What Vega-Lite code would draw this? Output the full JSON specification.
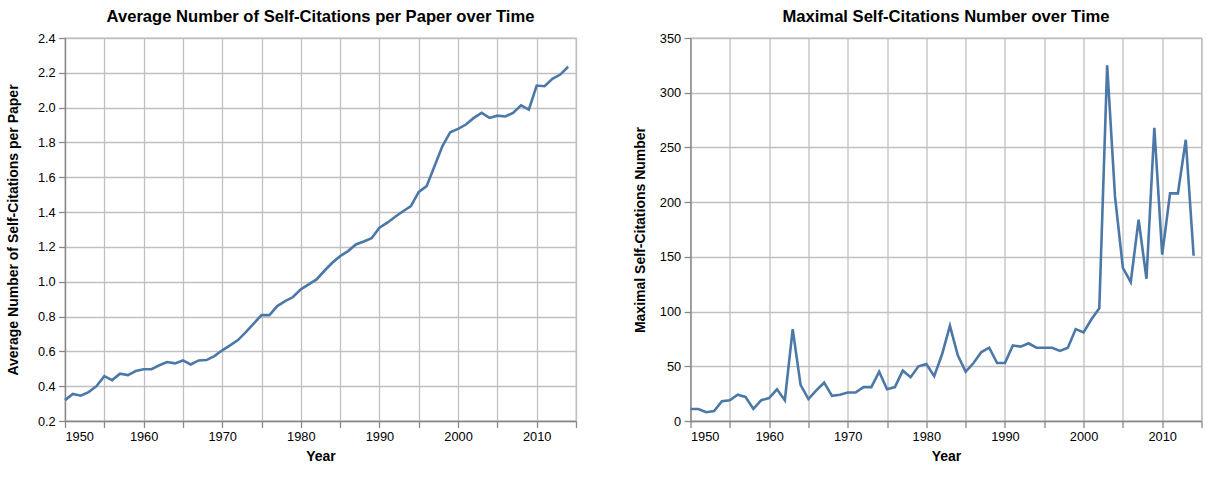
{
  "$schema": "https://vega.github.io/schema/vega-lite/v6.json",
  "background": "white",
  "padding": {"left": 6, "top": 8, "right": 5, "bottom": 5},
  "spacing": 54.5,
  "datasets": {
    "stats": [
      {"Year": 1950, "avg": 0.32, "max": 11},
      {"Year": 1951, "avg": 0.355, "max": 11},
      {"Year": 1952, "avg": 0.345, "max": 8},
      {"Year": 1953, "avg": 0.366, "max": 9},
      {"Year": 1954, "avg": 0.40, "max": 18},
      {"Year": 1955, "avg": 0.458, "max": 19},
      {"Year": 1956, "avg": 0.435, "max": 24},
      {"Year": 1957, "avg": 0.472, "max": 22},
      {"Year": 1958, "avg": 0.464, "max": 11},
      {"Year": 1959, "avg": 0.487, "max": 19},
      {"Year": 1960, "avg": 0.497, "max": 21},
      {"Year": 1961, "avg": 0.498, "max": 29},
      {"Year": 1962, "avg": 0.52, "max": 19},
      {"Year": 1963, "avg": 0.539, "max": 84},
      {"Year": 1964, "avg": 0.531, "max": 33},
      {"Year": 1965, "avg": 0.548, "max": 20},
      {"Year": 1966, "avg": 0.525, "max": 28},
      {"Year": 1967, "avg": 0.548, "max": 35},
      {"Year": 1968, "avg": 0.55, "max": 23},
      {"Year": 1969, "avg": 0.573, "max": 24},
      {"Year": 1970, "avg": 0.606, "max": 26},
      {"Year": 1971, "avg": 0.634, "max": 26},
      {"Year": 1972, "avg": 0.665, "max": 31},
      {"Year": 1973, "avg": 0.711, "max": 31},
      {"Year": 1974, "avg": 0.76, "max": 45},
      {"Year": 1975, "avg": 0.808, "max": 29},
      {"Year": 1976, "avg": 0.808, "max": 31},
      {"Year": 1977, "avg": 0.86, "max": 46},
      {"Year": 1978, "avg": 0.889, "max": 40},
      {"Year": 1979, "avg": 0.912, "max": 50},
      {"Year": 1980, "avg": 0.956, "max": 52},
      {"Year": 1981, "avg": 0.985, "max": 41},
      {"Year": 1982, "avg": 1.013, "max": 61},
      {"Year": 1983, "avg": 1.063, "max": 87},
      {"Year": 1984, "avg": 1.109, "max": 60},
      {"Year": 1985, "avg": 1.147, "max": 45},
      {"Year": 1986, "avg": 1.176, "max": 53},
      {"Year": 1987, "avg": 1.214, "max": 63},
      {"Year": 1988, "avg": 1.231, "max": 67},
      {"Year": 1989, "avg": 1.25, "max": 53},
      {"Year": 1990, "avg": 1.31, "max": 53},
      {"Year": 1991, "avg": 1.339, "max": 69},
      {"Year": 1992, "avg": 1.373, "max": 68},
      {"Year": 1993, "avg": 1.405, "max": 71},
      {"Year": 1994, "avg": 1.434, "max": 67},
      {"Year": 1995, "avg": 1.516, "max": 67},
      {"Year": 1996, "avg": 1.549, "max": 67},
      {"Year": 1997, "avg": 1.663, "max": 64},
      {"Year": 1998, "avg": 1.778, "max": 67},
      {"Year": 1999, "avg": 1.859, "max": 84},
      {"Year": 2000, "avg": 1.878, "max": 81},
      {"Year": 2001, "avg": 1.903, "max": 93},
      {"Year": 2002, "avg": 1.941, "max": 103},
      {"Year": 2003, "avg": 1.97, "max": 325},
      {"Year": 2004, "avg": 1.941, "max": 205},
      {"Year": 2005, "avg": 1.954, "max": 140},
      {"Year": 2006, "avg": 1.949, "max": 127},
      {"Year": 2007, "avg": 1.97, "max": 184},
      {"Year": 2008, "avg": 2.013, "max": 130},
      {"Year": 2009, "avg": 1.989, "max": 268},
      {"Year": 2010, "avg": 2.127, "max": 152},
      {"Year": 2011, "avg": 2.123, "max": 208},
      {"Year": 2012, "avg": 2.165, "max": 208},
      {"Year": 2013, "avg": 2.19, "max": 257},
      {"Year": 2014, "avg": 2.235, "max": 151}
    ]
  },
  "hconcat": [
    {
      "width": 511,
      "height": 383,
      "title": "Average Number of Self-Citations per Paper over Time",
      "data": {"name": "stats"},
      "mark": {"type": "line", "color": "#4c78a8", "strokeWidth": 2.6},
      "encoding": {
        "x": {"field": "Year", "type": "quantitative", "title": "Year",
              "scale": {"domain": [1950, 2015], "nice": false},
              "axis": {"format": "d", "values": [1950,1955,1960,1965,1970,1975,1980,1985,1990,1995,2000,2005,2010,2015], "labelExpr": "datum.value % 10 === 0 ? datum.label : ''"}},
        "y": {"field": "avg", "type": "quantitative", "title": "Average Number of Self-Citations per Paper",
              "scale": {"domain": [0.2, 2.4], "nice": false, "zero": false},
              "axis": {"values": [0.2,0.4,0.6,0.8,1.0,1.2,1.4,1.6,1.8,2.0,2.2,2.4], "format": ".1f", "titlePadding": 16.5}}
      }
    },
    {
      "width": 511,
      "height": 383,
      "title": "Maximal Self-Citations Number over Time",
      "data": {"name": "stats"},
      "mark": {"type": "line", "color": "#4c78a8", "strokeWidth": 2.6},
      "encoding": {
        "x": {"field": "Year", "type": "quantitative", "title": "Year",
              "scale": {"domain": [1950, 2015], "nice": false},
              "axis": {"format": "d", "values": [1950,1955,1960,1965,1970,1975,1980,1985,1990,1995,2000,2005,2010,2015], "labelExpr": "datum.value % 10 === 0 ? datum.label : ''"}},
        "y": {"field": "max", "type": "quantitative", "title": "Maximal Self-Citations Number",
              "scale": {"domain": [0, 350], "nice": false},
              "axis": {"values": [0,50,100,150,200,250,300,350], "titlePadding": 12}}
      }
    }
  ],
  "config": {
    "font": "Liberation Sans",
    "view": {"stroke": "#c0c0c0", "strokeWidth": 1.3},
    "title": {"fontSize": 16.6, "fontWeight": "bold", "color": "#000", "offset": 6},
    "axis": {
      "labelFontSize": 12.8,
      "labelColor": "#000",
      "labelPadding": 3.4,
      "titleFontSize": 14,
      "titleFontWeight": "bold",
      "titleColor": "#000",
      "titlePadding": 6,
      "gridColor": "#c0c0c0",
      "gridWidth": 1.3,
      "gridOpacity": 1,
      "domainColor": "#888",
      "domainWidth": 1.3,
      "tickColor": "#888",
      "tickWidth": 1.3,
      "tickSize": 6.4
    }
  }
}
